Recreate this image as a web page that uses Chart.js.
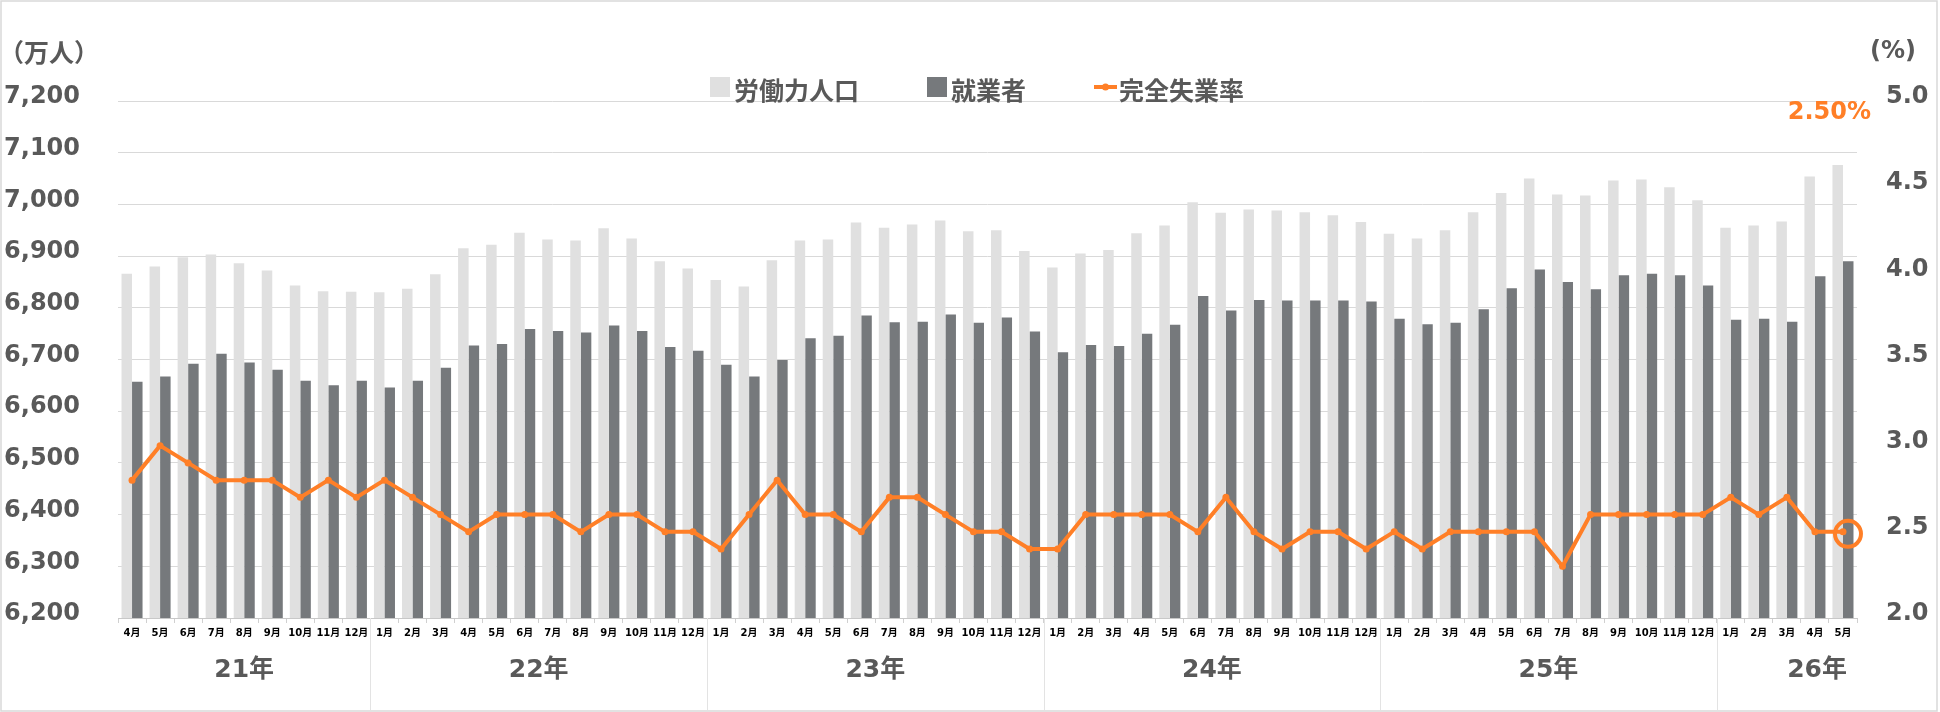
<!DOCTYPE html>
<html lang="ja">
<head>
<meta charset="UTF-8">
<title>労働力人口・就業者・完全失業率</title>
<script src="https://cdn.jsdelivr.net/npm/chart.js"></script>
<style>
    body { margin: 0; padding: 0; background: #fff; }
    #wrap { width: 1940px; height: 712px; }
</style>
</head>
<body>
<div id="wrap"><canvas id="chart" width="1940" height="712"></canvas></div>
<script>
// year groups and their months
const years = ['21年', '22年', '23年', '24年', '25年', '26年'];
const months = [
    ['4月','5月','6月','7月','8月','9月','10月','11月','12月'],
    ['1月','2月','3月','4月','5月','6月','7月','8月','9月','10月','11月','12月'],
    ['1月','2月','3月','4月','5月','6月','7月','8月','9月','10月','11月','12月'],
    ['1月','2月','3月','4月','5月','6月','7月','8月','9月','10月','11月','12月'],
    ['1月','2月','3月','4月','5月','6月','7月','8月','9月','10月','11月','12月'],
    ['1月','2月','3月','4月','5月']
];

// 労働力人口 (万人)
const laborForce = [
    6866, 6880, 6898, 6903, 6886, 6872, 6843, 6832, 6831,
    6830, 6837, 6865, 6915, 6922, 6945, 6932, 6930, 6954, 6934, 6890, 6876,
    6854, 6841, 6892, 6930, 6932, 6965, 6955, 6961, 6969, 6948, 6950, 6910,
    6878, 6905, 6912, 6944, 6959, 7004, 6984, 6990, 6988, 6985, 6979, 6966,
    6943, 6934, 6950, 6985, 7022, 7050, 7019, 7017, 7046, 7048, 7033, 7008,
    6955, 6959, 6967, 7054, 7076
];
// 就業者 (万人)
const employed = [
    6657, 6667, 6692, 6711, 6694, 6680, 6659, 6650, 6659,
    6646, 6659, 6684, 6727, 6730, 6759, 6755, 6752, 6766, 6755, 6724, 6717,
    6690, 6667, 6699, 6741, 6746, 6785, 6772, 6773, 6787, 6771, 6781, 6754,
    6714, 6728, 6726, 6750, 6767, 6823, 6795, 6815, 6814, 6814, 6814, 6812,
    6779, 6768, 6771, 6797, 6838, 6874, 6850, 6836, 6863, 6866, 6863, 6843,
    6777, 6779, 6773, 6861, 6890
];
// 完全失業率 (%)
const unemployment = [
    2.8, 3.0, 2.9, 2.8, 2.8, 2.8, 2.7, 2.8, 2.7,
    2.8, 2.7, 2.6, 2.5, 2.6, 2.6, 2.6, 2.5, 2.6, 2.6, 2.5, 2.5,
    2.4, 2.6, 2.8, 2.6, 2.6, 2.5, 2.7, 2.7, 2.6, 2.5, 2.5, 2.4,
    2.4, 2.6, 2.6, 2.6, 2.6, 2.5, 2.7, 2.5, 2.4, 2.5, 2.5, 2.4,
    2.5, 2.4, 2.5, 2.5, 2.5, 2.5, 2.3, 2.6, 2.6, 2.6, 2.6, 2.6,
    2.7, 2.6, 2.7, 2.5, 2.5
];

const labels = months.flat();

const GRAY_TEXT = '#595959';
const ORANGE = '#FF7F27';
const NUM_FONT = '"DejaVu Sans", "Noto Sans CJK JP", sans-serif';
const JP_FONT = '"Noto Sans CJK JP", "DejaVu Sans", sans-serif';

// legend, unit labels, year groups, frame
const decor = {
    id: 'decor',
    afterDatasetsDraw(chart) {
        // ring around the latest rate
        const ctx = chart.ctx;
        const meta = chart.getDatasetMeta(2);
        const last = meta.data[meta.data.length - 1];
        ctx.save();
        ctx.strokeStyle = ORANGE;
        ctx.lineWidth = 4;
        ctx.beginPath();
        ctx.arc(last.x + 5, last.y + 2, 13, 0, Math.PI * 2);
        ctx.stroke();
        ctx.restore();
    },
    afterDraw(chart) {
        const ctx = chart.ctx;
        const area = chart.chartArea;
        const xs = chart.scales.x;
        ctx.save();

        // frame
        ctx.strokeStyle = '#D9D9D9';
        ctx.lineWidth = 1.5;
        ctx.strokeRect(1, 1, chart.width - 4, chart.height - 2);

        // unit labels
        ctx.fillStyle = GRAY_TEXT;
        ctx.textBaseline = 'middle';
        ctx.font = 'bold 25px ' + JP_FONT;
        ctx.textAlign = 'left';
        ctx.fillText('（万人）', -1, 52);
        ctx.font = 'bold 24px ' + NUM_FONT;
        ctx.fillText('(%)', 1870, 52);

        // latest rate
        ctx.fillStyle = ORANGE;
        ctx.textAlign = 'right';
        ctx.fillText(unemployment[unemployment.length - 1].toFixed(2) + '%', area.right + 14, 113);

        // legend
        let lx = 710;
        const ly = 87;
        chart.data.datasets.forEach(ds => {
            if (ds.type === 'line') {
                ctx.strokeStyle = ds.borderColor;
                ctx.lineWidth = 4;
                ctx.beginPath();
                ctx.moveTo(lx, ly);
                ctx.lineTo(lx + 23, ly);
                ctx.stroke();
                ctx.fillStyle = ds.borderColor;
                ctx.beginPath();
                ctx.arc(lx + 11.5, ly, 3.5, 0, Math.PI * 2);
                ctx.fill();
                lx += 25;
            } else {
                ctx.fillStyle = ds.backgroundColor;
                ctx.fillRect(lx, ly - 10, 20, 20);
                lx += 24;
            }
            ctx.fillStyle = GRAY_TEXT;
            ctx.font = 'bold 25px ' + JP_FONT;
            ctx.textAlign = 'left';
            ctx.fillText(ds.label, lx, ly + 3);
            lx += ctx.measureText(ds.label).width + 68;
        });

        // year separators and labels
        const step = xs.getPixelForValue(1) - xs.getPixelForValue(0);
        let start = 0;
        ctx.font = 'bold 25px ' + NUM_FONT;
        ctx.textAlign = 'center';
        years.forEach((yr, k) => {
            const n = months[k].length;
            const left = xs.getPixelForValue(start) - step / 2;
            const right = xs.getPixelForValue(start + n - 1) + step / 2;
            if (k > 0) {
                ctx.strokeStyle = '#E3E3E3';
                ctx.lineWidth = 1;
                ctx.beginPath();
                ctx.moveTo(Math.round(left) + 0.5, area.bottom);
                ctx.lineTo(Math.round(left) + 0.5, chart.height - 2);
                ctx.stroke();
            }
            let cx = (left + right) / 2;
            if (k === years.length - 1) {
                cx = right - ctx.measureText(yr).width / 2 - 10;
            }
            ctx.fillStyle = GRAY_TEXT;
            ctx.fillText(yr, cx, 670);
            start += n;
        });
        ctx.restore();
    }
};

new Chart(document.getElementById('chart'), {
    data: {
        labels: labels,
        datasets: [
            {
                type: 'bar',
                label: '労働力人口',
                data: laborForce,
                backgroundColor: '#E0E0E0',
                yAxisID: 'y',
                order: 1,
                categoryPercentage: 0.75,
                barPercentage: 1.0
            },
            {
                type: 'bar',
                label: '就業者',
                data: employed,
                backgroundColor: '#76797C',
                yAxisID: 'y',
                order: 1,
                categoryPercentage: 0.75,
                barPercentage: 1.0
            },
            {
                type: 'line',
                label: '完全失業率',
                data: unemployment,
                borderColor: ORANGE,
                backgroundColor: ORANGE,
                borderWidth: 4,
                pointRadius: 3.5,
                pointBackgroundColor: ORANGE,
                pointBorderWidth: 0,
                tension: 0,
                yAxisID: 'y1',
                order: 0
            }
        ]
    },
    options: {
        responsive: false,
        animation: false,
        layout: { padding: { top: 101, left: 0, right: 0, bottom: 0 } },
        plugins: {
            legend: { display: false },
            tooltip: { enabled: false }
        },
        scales: {
            x: {
                offset: true,
                grid: {
                    offset: true,
                    drawOnChartArea: false,
                    drawTicks: true,
                    tickLength: 5,
                    color: '#D0D0D0'
                },
                border: { color: '#C8C8C8' },
                ticks: {
                    autoSkip: false,
                    maxRotation: 0,
                    padding: 4,
                    color: '#000',
                    font: { family: NUM_FONT, size: 10, weight: 'bold' }
                },
                afterFit: s => { s.height = 94; }
            },
            y: {
                position: 'left',
                min: 6200,
                max: 7200,
                grid: { color: '#D9D9D9', drawTicks: false },
                border: { display: false },
                ticks: {
                    stepSize: 100,
                    padding: 38,
                    labelOffset: -4,
                    color: GRAY_TEXT,
                    font: { family: NUM_FONT, size: 24, weight: 'bold' },
                    callback: v => v.toLocaleString('en-US')
                },
                afterFit: s => { s.width = 118; }
            },
            y1: {
                position: 'right',
                min: 2.0,
                max: 5.0,
                grid: { drawOnChartArea: false, drawTicks: false },
                border: { display: false },
                ticks: {
                    stepSize: 0.5,
                    padding: 29,
                    labelOffset: -4,
                    color: GRAY_TEXT,
                    font: { family: NUM_FONT, size: 24, weight: 'bold' },
                    callback: v => v.toFixed(1)
                },
                afterFit: s => { s.width = 83; }
            }
        }
    },
    plugins: [decor]
});
</script>
</body>
</html>
